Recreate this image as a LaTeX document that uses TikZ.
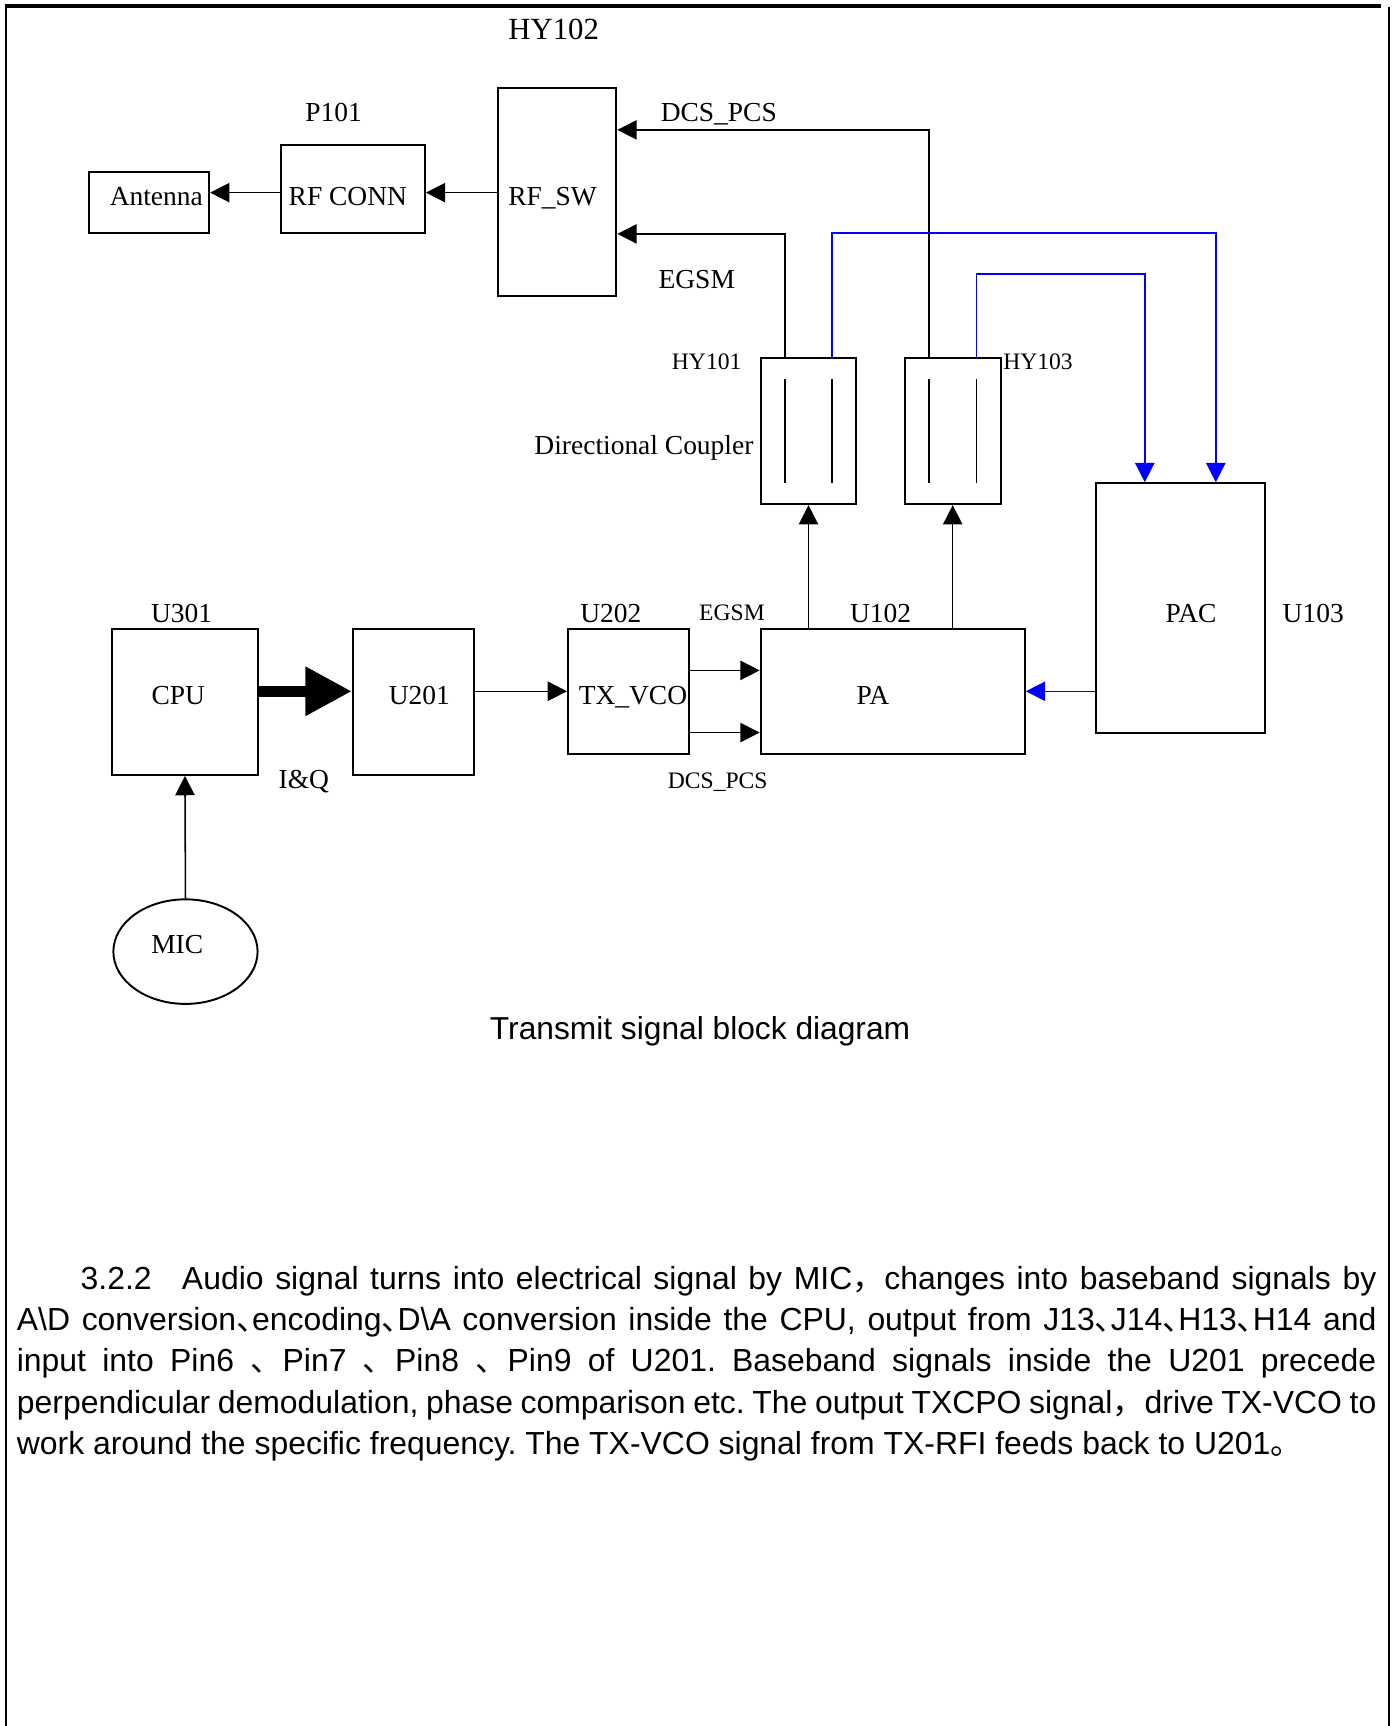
\documentclass[tikz,border=0pt]{standalone}
\usepackage{fontspec}
\setmainfont{Liberation Serif}
\setsansfont{Liberation Sans}
\newfontfamily\cjk{Noto Sans CJK SC}
\usetikzlibrary{arrows.meta,calc,shapes.geometric}
\newcommand{\dun}{{\cjk 、}\kern-0.5em}
\frenchspacing

\begin{document}
\begin{tikzpicture}[x=0.2mm, y=-0.2mm,
    box/.style={draw, line width=1pt, inner sep=0pt},
    lbl/.style={inner sep=0pt, font=\fontsize{14.2}{16}\selectfont,
                text height=9.4pt, text depth=0pt},
    sml/.style={inner sep=0pt, font=\fontsize{12.2}{14}\selectfont,
                text height=8.1pt, text depth=0pt},
    arr/.style={line width=0.8pt, -{Triangle[length=10pt, width=10pt]}},
    barr/.style={arr, blue},
    bus/.style={line width=5.7pt, -{Triangle[length=24pt, width=24pt]}},
    para/.style={anchor=north west, inner sep=0pt, text width=24.7cm, align=justify,
                 font=\sffamily\fontsize{16.5}{21.3}\selectfont}]
    \useasboundingbox (0,0) rectangle (1266,1568);

    % Page frame
    \draw[line width=2pt] (5,5.5) -- (1255,5.5);
    \draw[line width=1pt] (5.5,4) -- (5.5,1568);
    \draw[line width=1pt] (1262,6) -- (1262,1568);

    % Top row: antenna side
    \node[box, minimum width=21.8mm, minimum height=11.2mm] (ant) at (135.5,184) {};
    \node[box, minimum width=26.2mm, minimum height=16mm] (rfconn) at (320.5,172) {};
    \node[box, minimum width=21.6mm, minimum height=37.8mm] (rfsw) at (506,174.5) {};
    \node[lbl] (ant-t) at (142,178) {Antenna};
    \node[lbl] (rfconn-t) at (316,178) {RF CONN};
    \node[lbl] (rfsw-t) at (502,178) {RF\_SW};
    \node[lbl, font=\fontsize{15.9}{18}\selectfont, text height=10.5pt] (hy102) at (503,27) {HY102};
    \node[lbl] (p101) at (303,102) {P101};

    % Directional couplers
    \node[box, minimum width=17.4mm, minimum height=26.6mm] (hy1) at (734.5,391.5) {};
    \node[box, minimum width=17.4mm, minimum height=26.6mm] (hy3) at (865.5,391.5) {};
    \foreach \c in {hy1,hy3}{
      \draw[line width=0.8pt] ($(\c.center)+(-21.5,-47.5)$) -- ++(0,95);
      \draw[line width=0.8pt] ($(\c.center)+(21.5,-47.5)$) -- ++(0,95);
    }
    \node[sml] (hy101) at (642,329) {HY101};
    \node[sml] (hy103) at (943,329) {HY103};
    \node[lbl] (dircp) at (585,405) {Directional Coupler};

    % Power amplifier and controller
    \node[box, minimum width=30.6mm, minimum height=45.4mm] (pac) at (1072.5,552.5) {};
    \node[box, minimum width=48mm, minimum height=22.8mm] (pa) at (811,628) {};
    \node[lbl] (pac-t) at (1082,557) {PAC};
    \node[lbl] (pa-t) at (793,632) {PA};
    \node[lbl] (u103) at (1193,557) {U103};
    \node[lbl] (u102) at (800,557) {U102};

    % Bottom row
    \node[box, minimum width=22mm, minimum height=22.8mm] (vco) at (571,628) {};
    \node[box, minimum width=22mm, minimum height=26.6mm] (u201) at (375.5,637.5) {};
    \node[box, minimum width=26.4mm, minimum height=26.6mm] (cpu) at (168,637.5) {};
    \node[box, ellipse, minimum width=26.2mm, minimum height=19mm] (mic) at (168.5,864.5) {};
    \node[lbl] (vco-t) at (575,632) {TX\_VCO};
    \node[lbl] (u201-t) at (381,632) {U201};
    \node[lbl] (cpu-t) at (162,632) {CPU};
    \node[lbl] (mic-t) at (161,858) {MIC};
    \node[lbl] (u301) at (165,557) {U301};
    \node[lbl] (u202) at (555,557) {U202};
    \node[sml] (egsm2) at (665,557) {EGSM};
    \node[sml] (dcs2) at (652,709) {DCS\_PCS};
    \node[lbl] (iq) at (276,708) {I\&Q};

    % RF outputs
    \draw[arr] ($(rfsw.west |- rfconn.east)+(0,3)$) -- ($(rfconn.east)+(0,3)$);
    \draw[arr] ($(rfconn.west)+(0,3)$) -- ($(rfconn.west -| ant.east)+(0,3)$);
    \draw[arr] ($(hy3.north)+(-21.5,0)$) |- ($(rfsw.east)+(0,-56.5)$);
    \node[lbl] (dcs1) at (653,102) {DCS\_PCS};
    \draw[arr] ($(hy1.north)+(-21.5,0)$) |- ($(rfsw.east)+(0,38)$);
    \node[lbl] (egsm1) at (633,254) {EGSM};

    % Power detect loops (blue)
    \draw[barr] ($(hy1.north)+(21.5,0)$) -- ++(0,-112.5) -| ($(pac.north)+(32,0)$);
    \draw[barr] ($(hy3.north)+(21.5,0)$) -- ++(0,-75) -| ($(pac.north)+(-32.5,0)$);
    \draw[barr] (pac.west |- pa.east) -- (pa.east);

    % Signal chain
    \draw[arr] (pa.north -| hy1.south) -- (hy1.south);
    \draw[arr] (pa.north -| hy3.south) -- (hy3.south);
    \draw[arr] ($(vco.east)+(0,-19)$) -- ($(pa.west)+(0,-19)$);
    \draw[arr] ($(vco.east)+(0,37.5)$) -- ($(pa.west)+(0,37.5)$);
    \draw[arr] (u201.east |- vco.west) -- (vco.west);
    \draw[bus] ($(cpu.east)+(0,-9.5)$) -- ($(u201.west)+(0,-9.5)$);
    \draw[arr] (mic.north) -- (cpu.south);

    % Caption and text
    \node[inner sep=0pt, font=\sffamily\fontsize{16.4}{20}\selectfont,
          text height=11.7pt, text depth=0pt] (cap) at (636,934) {Transmit signal block diagram};
    \node[para] (txt) at (15,1150) {\noindent\hspace*{11.6mm}3.2.2\hspace{5.5mm}Audio signal turns into electrical signal by MIC{\cjk ，}changes into baseband signals by\linebreak
      A\textbackslash D conversion\dun encoding\dun D\textbackslash A conversion inside the CPU, output from J13\dun J14\dun H13\dun H14 and\linebreak
      input into Pin6 \dun{} Pin7 \dun{} Pin8 \dun{} Pin9 of U201. Baseband signals inside the U201 precede\linebreak
      perpendicular demodulation, phase comparison etc. The output TXCPO signal{\cjk ，}drive TX-VCO to\linebreak
      work around the specific frequency. The TX-VCO signal from TX-RFI feeds back to U201{\cjk 。}};
\end{tikzpicture}
\end{document}
